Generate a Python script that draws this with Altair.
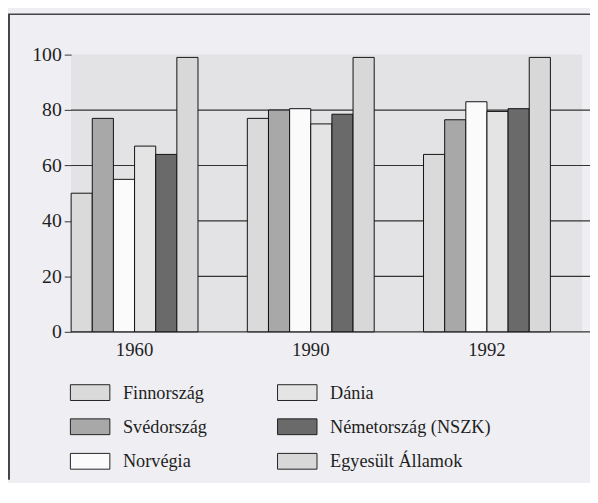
import altair as alt
import pandas as pd

years = ["1960", "1990", "1992"]
countries = ["Finnország", "Svédország", "Norvégia", "Dánia", "Németország (NSZK)", "Egyesült Államok"]

finnorszag = [50, 77, 64]
svedorszag = [77, 80, 76.5]
norvegia = [55, 80.5, 83]
dania = [67, 75, 79.5]
nemetorszag = [64, 78.5, 80.5]
egyesult_allamok = [99, 99, 99]

fill_colors = {
    "Finnország": "#dadada",
    "Dánia": "#e4e4e4",
    "Svédország": "#a8a8a8",
    "Németország (NSZK)": "#6a6a6a",
    "Norvégia": "#fbfbfb",
    "Egyesült Államok": "#d8d8d8",
}

grid_values = [0, 20, 40, 60, 80]
y_ticks = [0, 20, 40, 60, 80, 100]

series = [finnorszag, svedorszag, norvegia, dania, nemetorszag, egyesult_allamok]
rows = []
for c, vals in zip(countries, series):
    for y, v in zip(years, vals):
        rows.append({"year": y, "country": c, "value": v})
df = pd.DataFrame(rows)

FONT = "Liberation Serif"
INK = "#1e1e1e"
W, H = 518, 281

y_scale = alt.Scale(domain=[0, 100], nice=False)

bars = alt.Chart(df).mark_bar(stroke="#111111", strokeWidth=1).encode(
    x=alt.X("year:N", sort=years,
            scale=alt.Scale(paddingInner=0.28, paddingOuter=0.09, align=0),
            axis=alt.Axis(title=None, labelAngle=0, ticks=False, domain=False,
                          labelFont=FONT, labelFontSize=19, labelColor=INK,
                          labelPadding=9)),
    xOffset=alt.XOffset("country:N", sort=countries,
                        scale=alt.Scale(paddingInner=0, paddingOuter=0)),
    y=alt.Y("value:Q", scale=y_scale,
            axis=alt.Axis(title=None, values=y_ticks, grid=False, domain=False,
                          tickSize=7, tickColor="#333333", labelFont=FONT,
                          labelFontSize=20, labelColor=INK, labelPadding=3)),
    color=alt.Color("country:N",
                    scale=alt.Scale(domain=countries,
                                    range=[fill_colors[c] for c in countries]),
                    legend=alt.Legend(title=None, orient="none", legendX=10, legendY=333,
                                      columns=2, symbolType="M-2.5,-1H2.5V1H-2.5Z",
                                      symbolSize=256, symbolStrokeColor="#222222",
                                      symbolStrokeWidth=1, symbolOpacity=1,
                                      labelFont=FONT, labelFontSize=18.5, labelColor=INK,
                                      labelOffset=24, rowPadding=14, columnPadding=69,
                                      labelLimit=300)),
)

grid_df = pd.DataFrame({"value": grid_values})
grid = alt.Chart(grid_df).mark_rule(color="#333333", strokeWidth=1.2).encode(
    y=alt.Y("value:Q", scale=y_scale),
    x=alt.value(0),
    x2=alt.value(W + 8),
)

one = pd.DataFrame({"k": [0]})
border_top = alt.Chart(one).mark_rule(color="#444444", strokeWidth=1.5).encode(
    x=alt.value(-64), x2=alt.value(W + 8), y=alt.value(-41))
border_left = alt.Chart(one).mark_rule(color="#444444", strokeWidth=2).encode(
    x=alt.value(-63), y=alt.value(-41), y2=alt.value(H + 150))

chart = alt.layer(grid, bars, border_top, border_left).properties(
    width=W, height=H,
    autosize="none",
    padding={"left": 64, "top": 44, "right": 8, "bottom": 150},
    background="#efeff3",
).configure_view(fill="#e3e3e5", strokeWidth=0)

chart.save("out.html", embed_options={"renderer": "svg", "actions": False})
